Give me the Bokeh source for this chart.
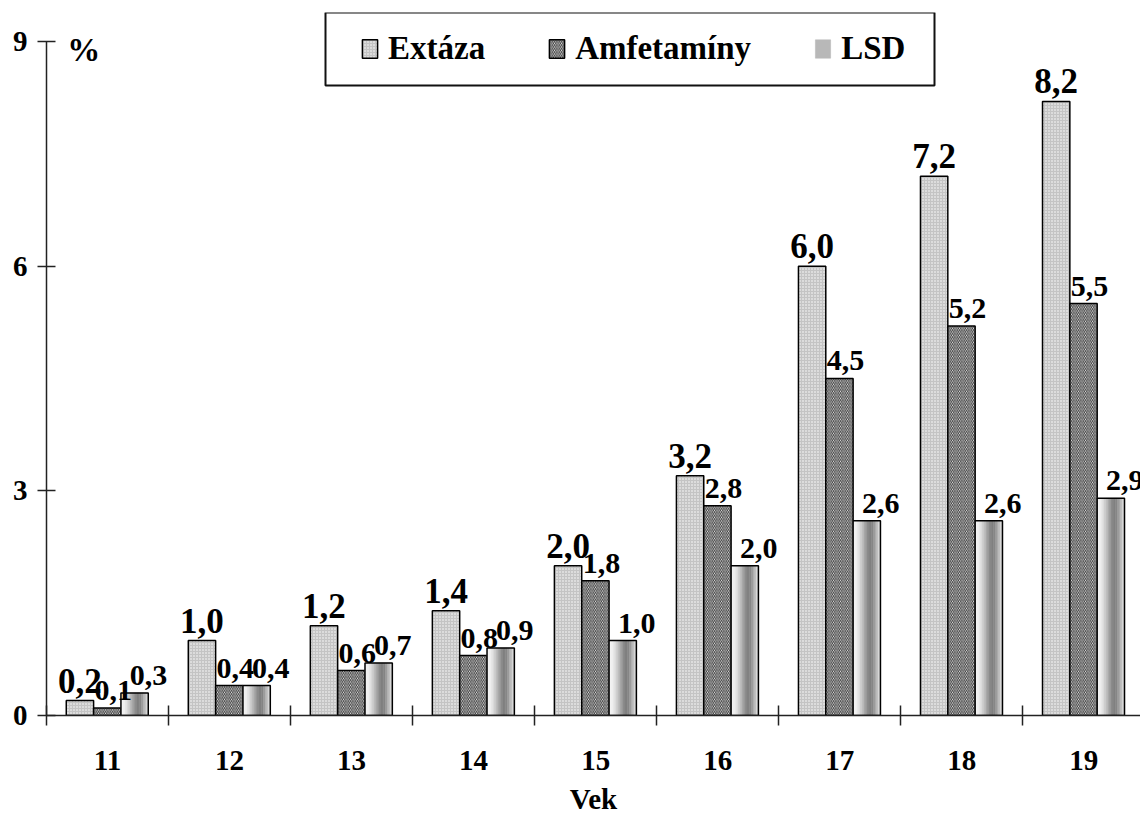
import numpy as np
from bokeh.plotting import figure
from bokeh.models import (ColumnDataSource, FixedTicker, Range1d, Legend,
                          LegendItem, LabelSet, Label, BoxAnnotation)
from bokeh.embed import file_html
from bokeh.resources import INLINE

# ---- data ----
ages = ["11", "12", "13", "14", "15", "16", "17", "18", "19"]
extaza = [0.2, 1.0, 1.2, 1.4, 2.0, 3.2, 6.0, 7.2, 8.2]
amfetaminy = [0.1, 0.4, 0.6, 0.8, 1.8, 2.8, 4.5, 5.2, 5.5]
lsd = [0.3, 0.4, 0.7, 0.9, 1.0, 2.0, 2.6, 2.6, 2.9]
series_names = ["Extáza", "Amfetamíny", "LSD"]
y_ticks = [0, 3, 6, 9]
x_title = "Vek"
y_unit = "%"

FONT = "Liberation Serif"
centers = np.arange(len(ages)) + 0.5
W = 0.224
offsets = [-0.226, -0.002, 0.222]


def fmt(v):
    return f"{v:.1f}".replace(".", ",")


p = figure(width=1140, height=819, x_range=Range1d(0, 8.965), y_range=Range1d(0, 9.387),
           output_backend="svg", toolbar_location=None,
           min_border_left=46, min_border_right=0, min_border_top=12, min_border_bottom=104)
p.grid.visible = False
p.outline_line_color = None
p.background_fill_color = "white"

# Extáza bars
src_e = ColumnDataSource(dict(x=centers + offsets[0], top=extaza, t=[fmt(v) for v in extaza]))
r_e = p.vbar(x="x", top="top", width=W, source=src_e, fill_color="#c4c4c4",
             hatch_pattern="dot", hatch_color="white", hatch_scale=3, hatch_weight=1,
             line_color="black", line_width=1.5)

# Amfetamíny bars
src_a = ColumnDataSource(dict(x=centers + offsets[1], top=amfetaminy, t=[fmt(v) for v in amfetaminy]))
r_a = p.vbar(x="x", top="top", width=W, source=src_a, fill_color="#f0f0f0",
             hatch_pattern="left_diagonal_line", hatch_color="#333333", hatch_scale=3.5,
             hatch_weight=1, line_color="black", line_width=1.5)

# LSD bars: cylinder-like gradient built from narrow strips
grad = ["#f4f4f4", "#eeeeee", "#e2e2e2", "#cfcfcf", "#b8b8b8", "#a0a0a0",
        "#8c8c8c", "#808080", "#868686", "#9c9c9c", "#bababa", "#d6d6d6"]
n = len(grad)
sx, stop, scol = [], [], []
for c, v in zip(centers + offsets[2], lsd):
    for k in range(n):
        sx.append(c - W / 2 + (k + 0.5) * W / n)
        stop.append(v)
        scol.append(grad[k])
src_ls = ColumnDataSource(dict(x=sx, top=stop, c=scol))
r_ls = p.vbar(x="x", top="top", width=W / n, source=src_ls, fill_color="c",
              line_color="c", line_width=0.6)
src_l = ColumnDataSource(dict(x=centers + offsets[2], top=lsd, t=[fmt(v) for v in lsd]))
r_lo = p.vbar(x="x", top="top", width=W, source=src_l, fill_alpha=0,
              line_color="black", line_width=1.5)

# value labels
for src, size, xo in [(src_e, "35px", 0), (src_a, "30px", 6), (src_l, "30px", 14)]:
    p.add_layout(LabelSet(x="x", y="top", text="t", source=src, text_align="center",
                          text_baseline="alphabetic", x_offset=xo, y_offset=8,
                          text_font=FONT, text_font_style="bold", text_font_size=size,
                          text_color="black"))

# axes
xa = p.xaxis[0]
xa.ticker = FixedTicker(ticks=list(centers), minor_ticks=list(range(0, 10)))
xa.major_label_overrides = {float(c): a for c, a in zip(centers, ages)}
xa.major_tick_in = 0
xa.major_tick_out = 0
xa.minor_tick_in = 10
xa.minor_tick_out = 10
xa.minor_tick_line_color = "#222222"
xa.minor_tick_line_width = 1.5
xa.axis_line_color = "#222222"
xa.axis_line_width = 1.5
xa.major_label_standoff = 25
xa.major_label_text_font = FONT
xa.major_label_text_font_style = "bold"
xa.major_label_text_font_size = "29px"
xa.major_label_text_color = "black"
xa.axis_label = x_title
xa.axis_label_text_font = FONT
xa.axis_label_text_font_style = "bold"
xa.axis_label_text_font_size = "29px"
xa.axis_label_text_color = "black"
xa.axis_label_standoff = 10

ya = p.yaxis[0]
ya.ticker = FixedTicker(ticks=y_ticks, minor_ticks=[])
ya.bounds = (0, 9)
ya.major_tick_in = 9
ya.major_tick_out = 9
ya.minor_tick_in = 0
ya.minor_tick_out = 0
ya.major_tick_line_color = "#222222"
ya.major_tick_line_width = 1.5
ya.axis_line_color = "#222222"
ya.axis_line_width = 1.5
ya.major_label_standoff = 10
ya.major_label_text_font = FONT
ya.major_label_text_font_style = "bold"
ya.major_label_text_font_size = "29px"
ya.major_label_text_color = "black"

p.add_layout(Label(x=0.17, y=8.88, text=y_unit, text_baseline="middle", text_align="left",
                   text_font=FONT, text_font_style="bold", text_font_size="33px",
                   text_color="black"))

# legend frame (canvas pixels) and legend content
p.add_layout(BoxAnnotation(left=325, right=934, top=12, bottom=85,
                           left_units="canvas", right_units="canvas",
                           top_units="canvas", bottom_units="canvas",
                           fill_color="white", fill_alpha=1,
                           line_color="#111111", line_alpha=1, line_width=2,
                           level="overlay"))
legend = Legend(items=[
    LegendItem(label=series_names[0], renderers=[r_e]),
    LegendItem(label=series_names[1], renderers=[r_a]),
    LegendItem(label=series_names[2], renderers=[r_ls, r_lo], index=40),
], orientation="horizontal", location=(298, 632), label_text_font=FONT,
    label_text_font_style="bold", label_text_font_size="33px", label_text_color="black",
    glyph_width=19, glyph_height=23, label_standoff=9, spacing=62, padding=16, margin=0,
    border_line_alpha=0, background_fill_alpha=0)
p.add_layout(legend)

open("out.html", "w").write(file_html(p, INLINE))
